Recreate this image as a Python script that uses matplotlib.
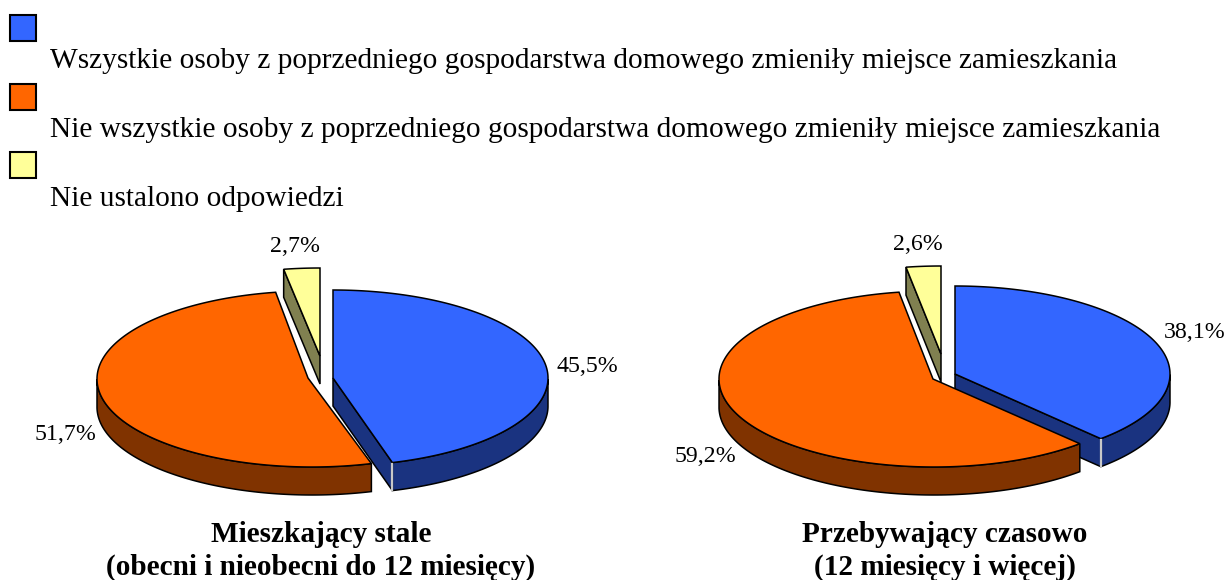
import numpy as np
import matplotlib
matplotlib.use("Agg")
import matplotlib.pyplot as plt
from matplotlib.patches import Polygon, Rectangle

plt.rcParams['font.family'] = ['Liberation Serif', 'DejaVu Sans']

legend_labels = [
    "Wszystkie osoby z poprzedniego gospodarstwa domowego zmieniły miejsce zamieszkania",
    "Nie wszystkie osoby z poprzedniego gospodarstwa domowego zmieniły miejsce zamieszkania",
    "Nie ustalono odpowiedzi",
]
left_values = [45.5, 51.7, 2.7]
right_values = [38.1, 59.2, 2.6]
left_title = "Mieszkający stale\n(obecni i nieobecni do 12 miesięcy)"
right_title = "Przebywający czasowo\n(12 miesięcy i więcej)"

top_colors = ["#3366FF", "#FF6600", "#FFFF99"]
side_colors = ["#1A3380", "#803300", "#808050"]

RX, RY, DEPTH = 215, 88, 28
W, H = 1228, 580

fig = plt.figure(figsize=(W / 100, H / 100), dpi=100)
ax = fig.add_axes([0, 0, 1, 1])
ax.set_xlim(0, W)
ax.set_ylim(H, 0)
ax.axis("off")


def pt(c, a, dy=0):
    t = np.deg2rad(a)
    return np.column_stack([c[0] + RX * np.sin(t), c[1] - RY * np.cos(t) + dy])


def slice_draw(c, apex, a0, a1, i, z):
    arc = np.linspace(a0, a1, 200)
    top = pt(c, arc)
    lw = 1.1
    front = arc[np.cos(np.deg2rad(arc)) <= 0.0]
    if i == 0 or i == 2:
        a = a1 if i == 0 else a0
        e = pt(c, np.array([a]))[0]
        face = [apex, e, (e[0], e[1] + DEPTH), (apex[0], apex[1] + DEPTH)]
        ax.add_patch(Polygon(face, fc=side_colors[i], ec="black", lw=lw, zorder=z))
    if len(front) > 1:
        up = pt(c, front)
        low = pt(c, front, DEPTH)
        ax.add_patch(Polygon(np.vstack([up, low[::-1]]), fc=side_colors[i], ec="black", lw=lw, zorder=z))
    ax.add_patch(Polygon(np.vstack([[apex], top]), fc=top_colors[i], ec="black", lw=lw, zorder=z + 0.5))
    if i == 0:
        e = pt(c, np.array([a1]))[0]
        ax.plot([e[0], e[0]], [e[1] + 1, e[1] + DEPTH - 1], color="#C8C8C8", lw=1.6, zorder=z + 0.6)


def pie(values, centers, apexes, label_pos, title, title_x):
    a = 0.0
    spans = []
    for v in values:
        spans.append((a, a + v * 3.6))
        a += v * 3.6
    total = a
    spans = [(s * 360 / total, e * 360 / total) for s, e in spans]
    for i in (2, 0, 1):
        slice_draw(centers[i], apexes[i], spans[i][0], spans[i][1], i, 2 + i)
    for v, (x, y) in zip(values, label_pos):
        ax.text(x, y, f"{v:.1f}%".replace(".", ","), fontsize=17.2, color="black",
                ha="center", va="center", zorder=10)
    ax.text(title_x, 551, title, fontsize=21.1, fontweight="bold", ha="center", va="center",
            linespacing=1.24, color="black")


pie(left_values, [(333, 378), (312, 379), (320, 356)],
    [(333, 378), (308, 378), (320, 356)],
    [(587, 366), (65, 434), (295, 246)], left_title, 321)
pie(right_values, [(955, 374), (934, 379), (941, 354)],
    [(955, 374), (933, 379), (941, 354)],
    [(1195, 333), (705, 457), (918, 244)], right_title, 945)

swatch_y = [15, 84, 152]
text_y = [61, 130, 199]
for i, lab in enumerate(legend_labels):
    ax.add_patch(Rectangle((10, swatch_y[i]), 26, 26, fc=top_colors[i], ec="black", lw=1.5))
    ax.text(50, text_y[i], lab, fontsize=21.15, ha="left", va="center", color="black")

fig.savefig("out.png", dpi=100, facecolor="white")
